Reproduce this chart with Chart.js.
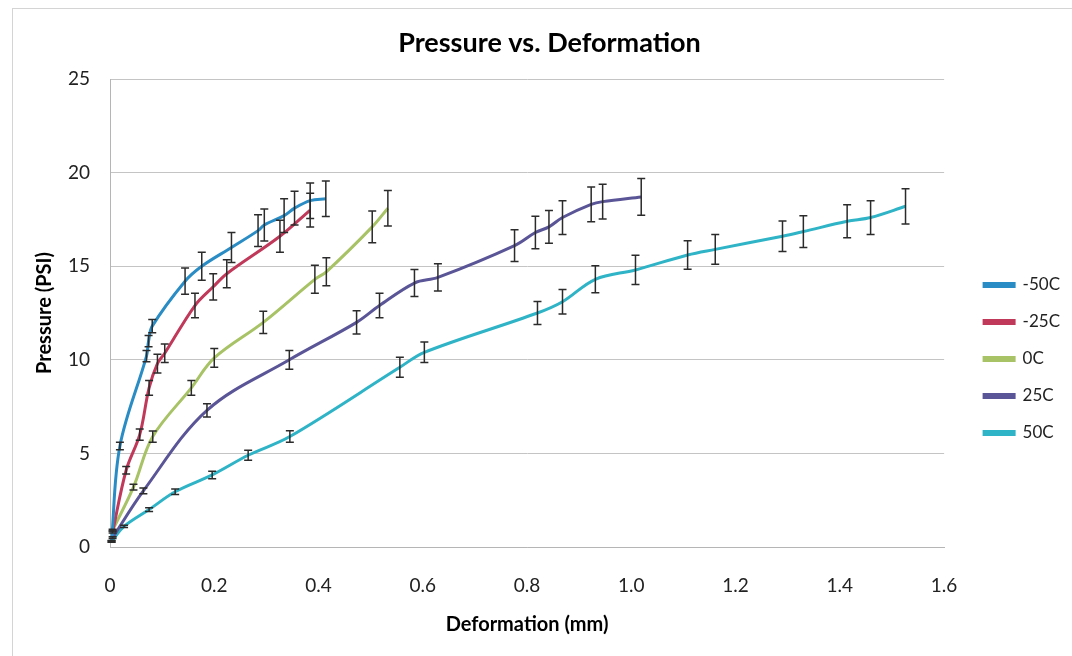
<!DOCTYPE html>
<html><head><meta charset="utf-8">
<script src="https://cdn.jsdelivr.net/npm/chart.js@4/dist/chart.umd.min.js"></script>
<style>
html,body{margin:0;padding:0;background:#fff;}
#wrap{position:relative;width:1072px;height:656px;overflow:hidden;}
#frame{position:absolute;left:12px;top:8px;width:1100px;height:700px;border:1px solid #d4d4d4;}
canvas{position:absolute;left:0;top:0;}
</style></head><body>
<div id="wrap"><div id="frame"></div><canvas id="c" width="1072" height="656"></canvas></div>
<script>
// ---- data ----
const seriesNames = ['-50C', '-25C', '0C', '25C', '50C'];
const seriesColors = ['#2a8cc4', '#c0395a', '#a8c266', '#5a5596', '#2fb3c6'];

const defM50 = [0.003, 0.019, 0.070, 0.074, 0.081, 0.144, 0.176, 0.233, 0.284, 0.296, 0.334, 0.354, 0.384, 0.414];
const presM50 = [0.3, 5.4, 10.2, 11.0, 11.8, 14.2, 15.0, 16.0, 16.9, 17.2, 17.7, 18.1, 18.5, 18.6];
const errM50 = [0.05, 0.2, 0.3, 0.3, 0.35, 0.7, 0.75, 0.8, 0.85, 0.85, 0.9, 0.9, 0.95, 0.95];

const defM25 = [0.005, 0.031, 0.057, 0.075, 0.091, 0.105, 0.163, 0.198, 0.224, 0.326, 0.384];
const presM25 = [0.8, 4.1, 6.0, 8.5, 9.8, 10.35, 12.9, 13.9, 14.6, 16.6, 18.0];
const errM25 = [0.05, 0.2, 0.3, 0.4, 0.5, 0.5, 0.65, 0.7, 0.75, 0.85, 0.9];

const def0 = [0.005, 0.045, 0.082, 0.156, 0.200, 0.294, 0.393, 0.415, 0.503, 0.533];
const pres0 = [0.9, 3.2, 5.9, 8.5, 10.1, 12.0, 14.3, 14.7, 17.1, 18.1];
const err0 = [0.05, 0.15, 0.3, 0.4, 0.5, 0.6, 0.75, 0.75, 0.85, 0.95];

const def25 = [0.005, 0.064, 0.186, 0.344, 0.473, 0.517, 0.584, 0.629, 0.776, 0.816, 0.842, 0.868, 0.923, 0.945, 1.019];
const pres25 = [0.5, 3.0, 7.3, 10.0, 12.0, 12.9, 14.1, 14.4, 16.1, 16.8, 17.1, 17.6, 18.3, 18.45, 18.7];
const err25 = [0.05, 0.15, 0.35, 0.5, 0.62, 0.65, 0.72, 0.73, 0.85, 0.87, 0.88, 0.9, 0.93, 0.93, 0.98];

const def50 = [0.003, 0.027, 0.075, 0.125, 0.196, 0.265, 0.345, 0.556, 0.603, 0.820, 0.868, 0.931, 1.008, 1.108, 1.161, 1.290, 1.330, 1.414, 1.459, 1.526];
const pres50 = [0.3, 1.1, 2.0, 2.95, 3.85, 4.9, 5.9, 9.6, 10.4, 12.5, 13.1, 14.3, 14.8, 15.6, 15.9, 16.6, 16.85, 17.4, 17.6, 18.2];
const err50 = [0.03, 0.06, 0.1, 0.15, 0.2, 0.27, 0.31, 0.53, 0.55, 0.62, 0.65, 0.72, 0.78, 0.76, 0.8, 0.82, 0.85, 0.88, 0.9, 0.94];

const xTickValues = [0, 0.2, 0.4, 0.6, 0.8, 1, 1.2, 1.4, 1.6];
const yTickValues = [0, 5, 10, 15, 20, 25];

const xs = [defM50, defM25, def0, def25, def50];
const ys = [presM50, presM25, pres0, pres25, pres50];
const es = [errM50, errM25, err0, err25, err50];

const FONT = 'Lato, "Open Sans", sans-serif';

const datasets = seriesNames.map((name, i) => ({
  label: name,
  data: xs[i].map((x, j) => ({x: x, y: ys[i][j]})),
  errors: es[i],
  borderColor: seriesColors[i],
  backgroundColor: seriesColors[i],
  borderWidth: 3,
  pointRadius: 0,
  tension: 0.35,
  fill: false
}));

const errorBars = {
  id: 'errorBars',
  afterDatasetsDraw(chart) {
    const ctx = chart.ctx;
    const xS = chart.scales.x, yS = chart.scales.y;
    ctx.save();
    ctx.strokeStyle = '#2b2b2b';
    ctx.lineWidth = 1.5;
    chart.data.datasets.forEach((ds) => {
      ds.data.forEach((p, j) => {
        const e = ds.errors[j];
        const px = xS.getPixelForValue(p.x);
        const top = yS.getPixelForValue(p.y + e);
        const bot = yS.getPixelForValue(p.y - e);
        ctx.beginPath();
        ctx.moveTo(px, top); ctx.lineTo(px, bot);
        ctx.moveTo(px - 4, top); ctx.lineTo(px + 4, top);
        ctx.moveTo(px - 4, bot); ctx.lineTo(px + 4, bot);
        ctx.stroke();
      });
    });
    ctx.restore();
  }
};

new Chart(document.getElementById('c'), {
  type: 'line',
  data: { datasets },
  plugins: [errorBars],
  options: {
    responsive: false,
    animation: false,
    layout: { padding: { left: 29, right: 2, top: 10, bottom: 15 } },
    plugins: {
      title: {
        display: true, text: 'Pressure vs. Deformation', color: '#000',
        font: { family: FONT, size: 27, weight: 'bold' },
        padding: { top: 17, bottom: 19.6 }
      },
      legend: {
        position: 'right', align: 'center',
        title: { display: true, text: '', font: { family: FONT, size: 12 }, padding: { top: 0, bottom: 52.6 } },
        labels: { boxWidth: 30, boxHeight: 3, padding: 20, color: '#222', font: { family: FONT, size: 17 } }
      },
      tooltip: { enabled: false }
    },
    scales: {
      x: {
        type: 'linear', min: 0, max: 1.6,
        afterBuildTicks: (s) => { s.ticks = xTickValues.map(v => ({ value: v })); },
        ticks: { padding: 27, color: '#222', font: { family: FONT, size: 19 } },
        grid: { display: false, drawTicks: false },
        border: { display: true, color: '#b5b5b5', width: 1 },
        title: { display: true, text: 'Deformation (mm)', color: '#000', font: { family: FONT, size: 20, weight: 'bold' }, padding: { top: 4, bottom: 4 } },
        afterFit: (s) => { s.height = 94; }
      },
      y: {
        type: 'linear', min: 0, max: 25,
        afterBuildTicks: (s) => { s.ticks = yTickValues.map(v => ({ value: v })); },
        ticks: { padding: 20, color: '#222', font: { family: FONT, size: 19 } },
        grid: { color: '#c4c4c4', drawTicks: false },
        border: { display: true, color: '#b5b5b5', width: 1 },
        title: { display: true, text: 'Pressure (PSI)', color: '#000', font: { family: FONT, size: 20, weight: 'bold' }, padding: { top: 4, bottom: 4 } },
        afterFit: (s) => { s.width = 81; }
      },
      gap: {
        type: 'linear', position: 'right', display: true,
        ticks: { display: false }, grid: { display: false, drawTicks: false }, border: { display: false },
        afterFit: (s) => { s.width = 20; }
      }
    }
  }
});
</script>
</body></html>
